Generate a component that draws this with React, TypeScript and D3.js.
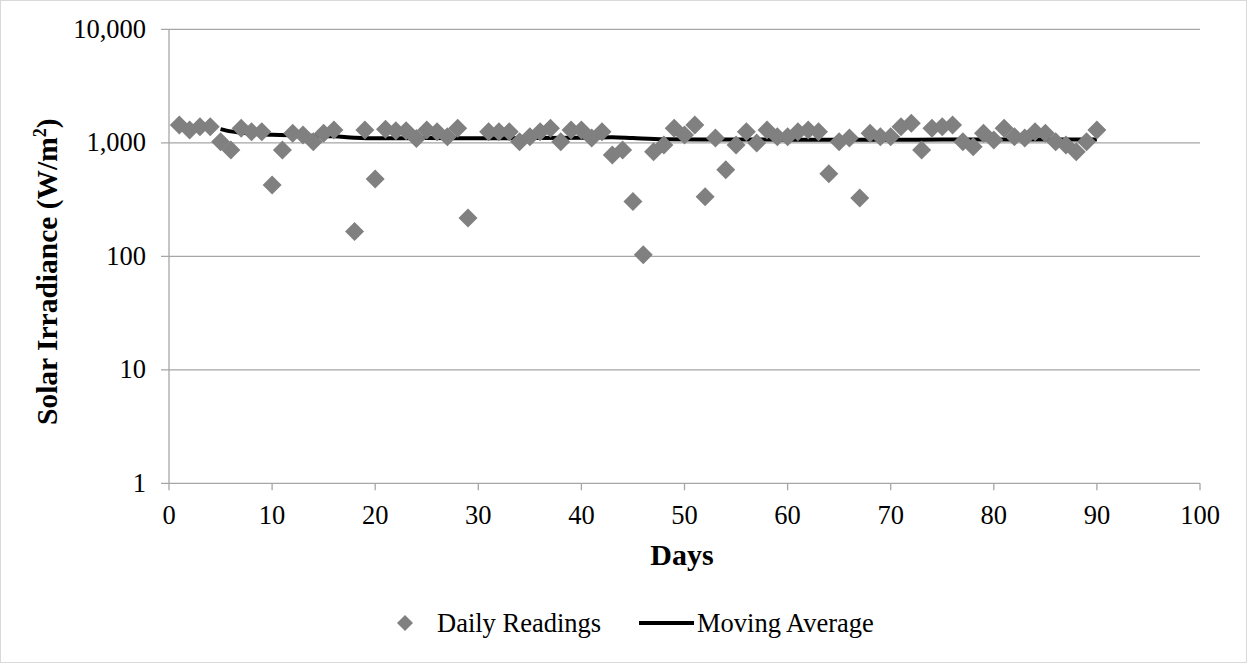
import React from "react";
import * as d3 from "d3";

const days: number[] = [1,2,3,4,5,6,7,8,9,10,11,12,13,14,15,16,18,19,20,21,22,23,24,25,26,27,28,29,31,32,33,34,35,36,37,38,39,40,41,42,43,44,45,46,47,48,49,50,51,52,53,54,55,56,57,58,59,60,61,62,63,64,65,66,67,68,69,70,71,72,73,74,75,76,77,78,79,80,81,82,83,84,85,86,87,88,89,90];
const readings: number[] = [1435,1297,1386,1386,1023,864,1342,1252,1252,425,864,1213,1171,1023,1213,1297,165,1297,480,1315,1278,1278,1090,1297,1252,1132,1342,217,1252,1252,1252,1023,1132,1252,1342,1023,1297,1297,1102,1252,781,864,304,103,835,957,1342,1171,1435,334,1102,578,957,1252,995,1297,1132,1132,1252,1297,1252,533,1023,1102,327,1213,1132,1132,1386,1485,864,1342,1386,1435,1023,925,1213,1059,1342,1132,1102,1252,1213,1023,957,835,1023,1297];

const maDays: number[] = [5,6,8,10,13,16,18,20,25,30,35,40,43,45,48,55,60,65,70,75,80,85,90];
const maValues: number[] = [1320,1260,1200,1175,1160,1140,1110,1095,1100,1095,1100,1110,1120,1100,1075,1070,1065,1065,1065,1068,1068,1070,1070];

const xTicks: number[] = [0,10,20,30,40,50,60,70,80,90,100];
const yTicks: number[] = [1,10,100,1000,10000];

const W = 1247, H = 663;
const FONT = "'Liberation Serif', 'Times New Roman', serif";

export default function App() {
  const x = d3.scaleLinear().domain([0, 100]).range([169, 1200]);
  const y = d3.scaleLog().domain([1, 10000]).range([483.3, 29.3]);
  const fmt = d3.format(",");
  const diamond = (r: number) => `M0,${-r}L${r},0L0,${r}L${-r},0Z`;
  const maLine = d3.line<number>()
    .x((_, i) => x(maDays[i]))
    .y((d) => y(d))
    .curve(d3.curveMonotoneX)(maValues) as string;
  const grid = "#a6a6a6";
  return (
    <svg width={W} height={H} style={{ position: "absolute", left: 0, top: 0 }} fontFamily={FONT}>
      <rect x={0.5} y={0.5} width={W - 1} height={H - 1} fill="#fff" stroke="#d9d9d9" />
      {yTicks.map((t) => (
        <g key={"y" + t}>
          <line x1={161} x2={1200} y1={y(t)} y2={y(t)} stroke={grid} strokeWidth={1.3} />
          <text x={146} y={y(t) + 8.5} textAnchor="end" fontSize={26.5} fill="#000">{fmt(t)}</text>
        </g>
      ))}
      <line x1={x(0)} x2={x(0)} y1={y(10000)} y2={y(1)} stroke={grid} strokeWidth={1.3} />
      {xTicks.map((t) => (
        <g key={"x" + t}>
          <line x1={x(t)} x2={x(t)} y1={y(1)} y2={y(1) + 7} stroke={grid} strokeWidth={1.3} />
          <text x={x(t)} y={524} textAnchor="middle" fontSize={26.5} fill="#000">{t}</text>
        </g>
      ))}
      <path d={maLine} fill="none" stroke="#000" strokeWidth={4} />
      {days.map((d, i) => (
        <path key={"p" + d} d={diamond(9.5)} transform={`translate(${x(d)},${y(readings[i])})`} fill="#808080" />
      ))}
      <text x={682} y={565} textAnchor="middle" fontSize={30} fontWeight="bold">Days</text>
      <text transform="translate(57,425) rotate(-90)" textAnchor="start" fontSize={29.5} fontWeight="bold">
        Solar Irradiance (W/m<tspan dy={-11} fontSize={18}>2</tspan><tspan dy={11}>)</tspan>
      </text>
      <path d={diamond(8)} transform="translate(405,623)" fill="#808080" />
      <text x={437} y={632} fontSize={26.5}>Daily Readings</text>
      <line x1={639} x2={694} y1={623} y2={623} stroke="#000" strokeWidth={4} />
      <text x={697} y={632} fontSize={26.5}>Moving Average</text>
    </svg>
  );
}
